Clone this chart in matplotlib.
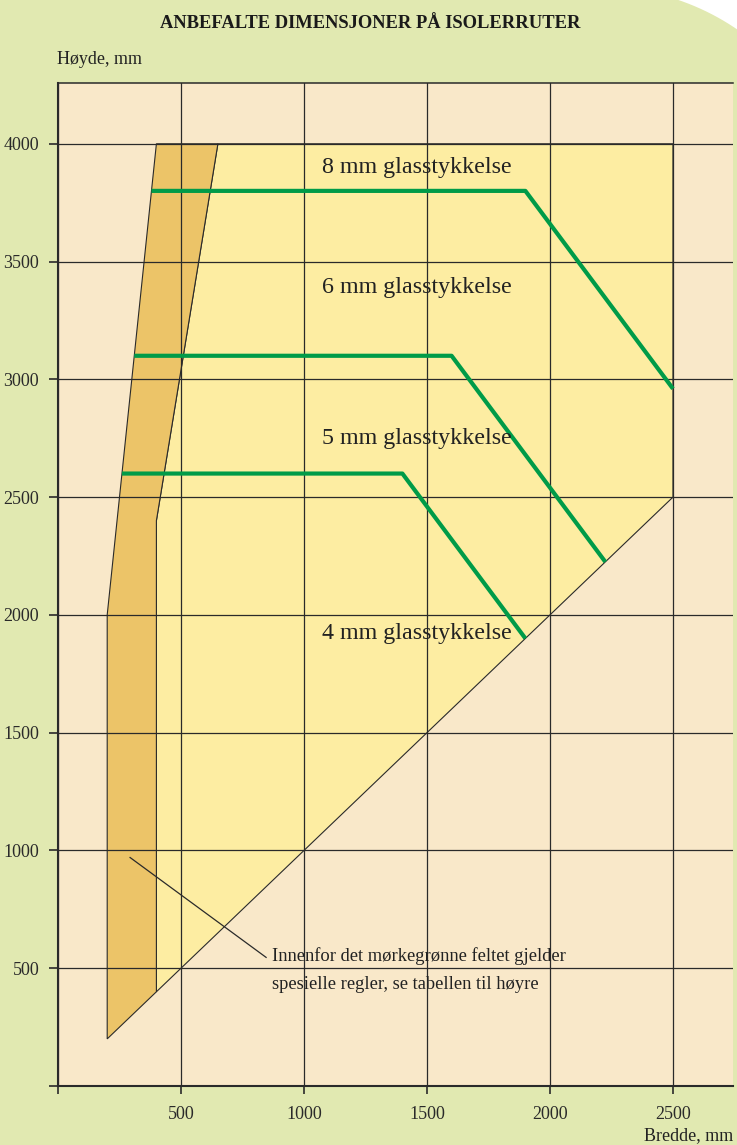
import numpy as np
import matplotlib
matplotlib.use('Agg')
import matplotlib.pyplot as plt
from matplotlib.patches import Polygon

plt.rcParams['font.family'] = ['Liberation Serif', 'DejaVu Serif']

# data (mm)
mork_x = [400, 650, 400, 400, 200, 200]
mork_y = [4000, 4000, 2400, 400, 200, 2000]
lys_x = [400, 400, 650, 2500, 2500]
lys_y = [400, 2400, 4000, 4000, 2500]

glass_8_x = [380, 1900, 2500]
glass_8_y = [3800, 3800, 2960]
glass_6_x = [310, 1600, 2225]
glass_6_y = [3100, 3100, 2225]
glass_5_x = [260, 1400, 1900]
glass_5_y = [2600, 2600, 1900]

etiketter = ['8 mm glasstykkelse', '6 mm glasstykkelse', '5 mm glasstykkelse', '4 mm glasstykkelse']
etikett_y = [3900, 3390, 2750, 1920]

xticks = [0, 500, 1000, 1500, 2000, 2500]
yticks = [0, 500, 1000, 1500, 2000, 2500, 3000, 3500, 4000]

gronn_bg = '#e1e9b1'
beige = '#f9e8c9'
gul = '#fdeda2'
oransje = '#ecc468'
linje = '#009b48'
mork = '#2a2a2a'

W, H = 737, 1145
fig = plt.figure(figsize=(W / 100, H / 100), dpi=100)
fig.patch.set_facecolor(gronn_bg)

# avrundet hjørne oppe til høyre
cx, cy, r = 600, 230, 243
t = np.linspace(-np.pi / 2, 0, 60)
px = cx + r * np.cos(t)
py = cy + r * np.sin(t)
pts = [(x / W, 1 - y / H) for x, y in zip(px, py) if x <= W + 5 and y >= -5]
pts = [(1.01, 1.01)] + pts + [(1.01, pts[-1][1])]
fig.patches.append(Polygon(pts, closed=True, transform=fig.transFigure,
                           facecolor='white', edgecolor='none', zorder=0))

ax = fig.add_axes([58 / W, (H - 1086) / H, (733 - 58) / W, (1086 - 83) / H])
ax.set_facecolor(beige)
ax.set_xlim(0, 2744)
ax.set_ylim(0, 4258)

ax.add_patch(Polygon(list(zip(lys_x, lys_y)), closed=True, facecolor=gul,
                     edgecolor=mork, lw=0.8, zorder=0.3))
ax.add_patch(Polygon(list(zip(mork_x, mork_y)), closed=True, facecolor=oransje,
                     edgecolor=mork, lw=0.8, zorder=0.35))

ax.set_axisbelow(True)
ax.grid(True, color=mork, lw=0.9)

for gx, gy in [(glass_8_x, glass_8_y), (glass_6_x, glass_6_y), (glass_5_x, glass_5_y)]:
    ax.plot(gx, gy, color=linje, lw=3, zorder=3, solid_capstyle='butt')

for txt, y in zip(etiketter, etikett_y):
    ax.text(1459, y, txt, ha='center', va='center', fontsize=17.3, color='#222222', zorder=4)

ax.set_xticks(xticks)
ax.set_xticklabels([''] + [str(v) for v in xticks[1:]])
ax.set_yticks(yticks)
ax.set_yticklabels([''] + [str(v) for v in yticks[1:]])
ax.tick_params(axis='x', direction='out', length=5.5, width=1.2, pad=9,
               labelsize=13, colors=mork)
ax.tick_params(axis='y', direction='out', length=6.5, width=1.2, pad=7,
               labelsize=13, colors=mork)

ax.spines['right'].set_visible(False)
for s in ['left', 'bottom']:
    ax.spines[s].set_linewidth(1.5)
    ax.spines[s].set_color(mork)
ax.spines['top'].set_linewidth(1.1)
ax.spines['top'].set_color(mork)

# forklaring med strek
ax.plot([293, 846], [970, 546], color=mork, lw=0.9, zorder=4)
ax.text(868, 552, 'Innenfor det mørkegrønne feltet gjelder', ha='left', va='center',
        fontsize=13.3, color='#222222', zorder=4)
ax.text(868, 433, 'spesielle regler, se tabellen til høyre', ha='left', va='center',
        fontsize=13.3, color='#222222', zorder=4)

fig.text(370 / W, 1 - 24 / H, 'ANBEFALTE DIMENSJONER PÅ ISOLERRUTER', ha='center',
         va='center', fontsize=13.3, fontweight='bold', color='#1a1a1a')
fig.text(57 / W, 1 - 60 / H, 'Høyde, mm', ha='left', va='center', fontsize=13, color='#222222')
fig.text(733 / W, 1 - 1136 / H, 'Bredde, mm', ha='right', va='center', fontsize=13, color='#222222')

fig.savefig('out.png', dpi=100, facecolor=fig.get_facecolor())
